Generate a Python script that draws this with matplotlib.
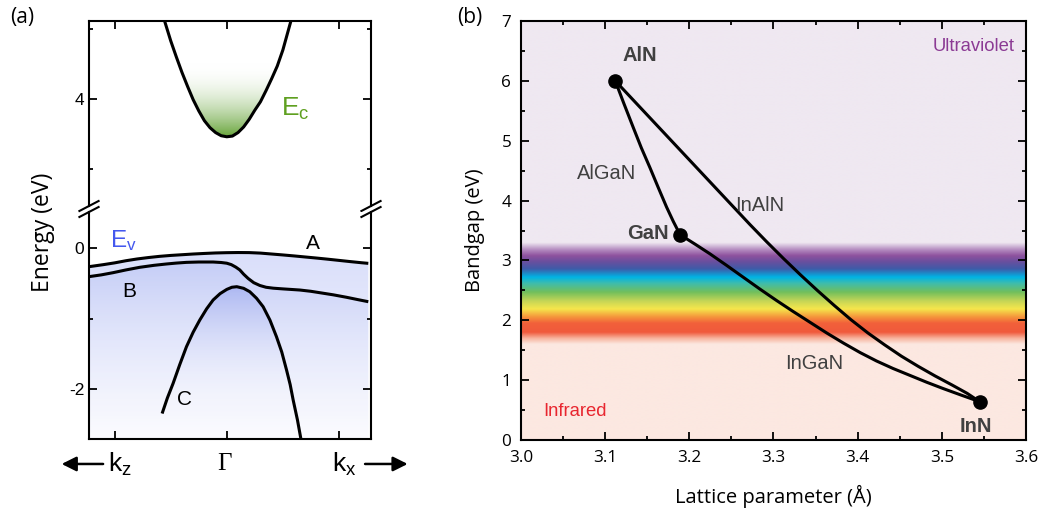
import numpy as np
import matplotlib
matplotlib.use("Agg")
import matplotlib.pyplot as plt
from matplotlib.colors import LinearSegmentedColormap
from matplotlib.patches import Polygon
from matplotlib.ticker import MultipleLocator, FormatStrFormatter

plt.rcParams['font.family'] = ['Liberation Sans', 'DejaVu Sans']
plt.rcParams['mathtext.fontset'] = 'custom'
plt.rcParams['mathtext.rm'] = 'Liberation Sans'
plt.rcParams['mathtext.it'] = 'Liberation Sans'
plt.rcParams['axes.unicode_minus'] = False

# ---- (a) band structure near Gamma ----
k_cb = [-0.554, -0.50, -0.45, -0.40, -0.35, -0.30, -0.25, -0.20, -0.15, -0.10, -0.05, 0.0,
        0.05, 0.10, 0.15, 0.20, 0.25, 0.30, 0.35, 0.40, 0.45, 0.50, 0.571]
e_cb = [5.11, 4.83, 4.60, 4.38, 4.18, 3.99, 3.83, 3.69, 3.59, 3.52, 3.475, 3.46,
        3.47, 3.52, 3.60, 3.71, 3.84, 3.96, 4.12, 4.29, 4.47, 4.70, 5.11]

k_a = [-1.229, -1.1, -1.0, -0.9, -0.8, -0.7, -0.6, -0.5, -0.4, -0.3, -0.2, -0.1, 0.0, 0.1, 0.2,
       0.3, 0.4, 0.5, 0.6, 0.7, 0.8, 0.9, 1.0, 1.1, 1.2, 1.262]
e_a = [-0.264, -0.235, -0.21, -0.18, -0.155, -0.135, -0.118, -0.105, -0.095, -0.085, -0.077,
       -0.07, -0.066, -0.064, -0.065, -0.072, -0.085, -0.098, -0.112, -0.127, -0.142, -0.158,
       -0.175, -0.192, -0.208, -0.217]

k_b = [-1.229, -1.12, -1.015, -0.9, -0.777, -0.65, -0.539, -0.45, -0.36, -0.25, -0.122, -0.05,
       0.0, 0.04, 0.08, 0.116, 0.15, 0.19, 0.24, 0.295, 0.35, 0.414, 0.5, 0.652, 0.75, 0.83,
       0.95, 1.069, 1.17, 1.262]
e_b = [-0.405, -0.38, -0.349, -0.31, -0.273, -0.245, -0.226, -0.213, -0.203, -0.198, -0.198,
       -0.205, -0.215, -0.235, -0.27, -0.31, -0.37, -0.43, -0.49, -0.53, -0.555, -0.568, -0.578,
       -0.594, -0.612, -0.632, -0.662, -0.697, -0.73, -0.759]

k_c = [-0.577, -0.53, -0.479, -0.42, -0.36, -0.30, -0.241, -0.18, -0.122, -0.06, 0.0, 0.045,
       0.089, 0.15, 0.205, 0.265, 0.324, 0.385, 0.443, 0.49, 0.533, 0.565, 0.592, 0.63, 0.661]
e_c = [-2.34, -2.12, -1.914, -1.65, -1.396, -1.19, -1.018, -0.86, -0.735, -0.645, -0.585,
       -0.555, -0.547, -0.57, -0.618, -0.71, -0.83, -1.02, -1.254, -1.47, -1.726, -1.93, -2.15,
       -2.43, -2.70]

k_ticks = [-1, 0, 1]
k_names = [r'k$_\mathrm{z}$', u'\u0393', r'k$_\mathrm{x}$']

# ---- (b) bandgap vs lattice parameter ----
a_bin = [3.112, 3.189, 3.545]
eg_bin = [6.0, 3.43, 0.64]

a_algan = [3.112, 3.122, 3.1334, 3.143, 3.1532, 3.163, 3.173, 3.181, 3.189]
eg_algan = [6.0, 5.63, 5.22, 4.88, 4.55, 4.22, 3.89, 3.65, 3.43]

a_inaln = [3.112, 3.132, 3.152, 3.172, 3.192, 3.212, 3.232, 3.252, 3.272, 3.292, 3.312, 3.332,
           3.352, 3.372, 3.392, 3.412, 3.432, 3.452, 3.472, 3.492, 3.512, 3.530, 3.545]
eg_inaln = [6.00, 5.70, 5.40, 5.10, 4.80, 4.50, 4.20, 3.90, 3.60, 3.31, 3.03, 2.76,
            2.50, 2.25, 2.01, 1.79, 1.59, 1.40, 1.23, 1.07, 0.92, 0.78, 0.64]

a_ingan = [3.189, 3.207, 3.2245, 3.244, 3.264, 3.284, 3.3037, 3.323, 3.343, 3.363, 3.383, 3.403,
           3.4224, 3.442, 3.462, 3.482, 3.5015, 3.523, 3.545]
eg_ingan = [3.43, 3.27, 3.11, 2.92, 2.72, 2.52, 2.33, 2.15, 1.97, 1.79, 1.62, 1.46,
            1.32, 1.195, 1.08, 0.965, 0.86, 0.75, 0.64]

# visible-spectrum band (energy in eV, colour)
spec_e = [0.0, 1.60, 1.70, 1.80, 1.95, 2.06, 2.19, 2.32, 2.47, 2.62, 2.72, 2.86, 2.98, 3.08, 3.18, 3.30, 7.0]
spec_c = ['#fce8e1', '#fce8e1', '#f7b29c', '#f05a3c', '#f2603a', '#f5983c', '#f6e64c', '#c6d656',
          '#72bf5c', '#3dbcae', '#00b4e4', '#3f5ba8', '#6a4f9e', '#8e529e', '#b48cc0', '#efe8f1', '#efe8f1']

fig = plt.figure(figsize=(10.43, 5.2), dpi=100)

ax_up = fig.add_axes([89 / 1043, 1 - 206 / 520, 282 / 1043, 185 / 520])
ax_lo = fig.add_axes([89 / 1043, 1 - 439 / 520, 282 / 1043, 227 / 520])
xlim_a = (-1.229, 1.286)
for ax in (ax_up, ax_lo):
    ax.set_xlim(*xlim_a)
    ax.set_xticks(k_ticks)
    ax.tick_params(direction='in', length=6, width=1.3, labelsize=12.5, which='major')
    ax.tick_params(direction='in', length=3, width=1.3, which='minor')
    ax.yaxis.set_major_locator(MultipleLocator(2))
    ax.yaxis.set_minor_locator(MultipleLocator(1))
    for s in ax.spines.values():
        s.set_linewidth(1.5)
ax_up.set_ylim(2.471, 5.114)
ax_lo.set_ylim(-2.70, 0.509)
ax_up.spines['bottom'].set_visible(False)
ax_lo.spines['top'].set_visible(False)
ax_up.tick_params(which='both', top=True, bottom=False, left=True, right=True, labelbottom=False)
ax_lo.tick_params(which='both', top=False, bottom=True, left=True, right=True, labelbottom=False)


def gradient_fill(ax, xs, top, bottom, c_top, c_bot, clip_xy):
    t = np.linspace(0, 1, 256)[:, None]
    c0 = np.array(matplotlib.colors.to_rgba(c_top))
    c1 = np.array(matplotlib.colors.to_rgba(c_bot))
    img = (c0 * (1 - t) + c1 * t)[:, None, :]
    im = ax.imshow(img, extent=[xs[0], xs[1], bottom, top], aspect='auto',
                   origin='upper', zorder=1, interpolation='bilinear')
    poly = Polygon(clip_xy, closed=True, facecolor='none', edgecolor='none')
    ax.add_patch(poly)
    im.set_clip_path(poly)


# conduction band with green shading up to ~4.5 eV
cb_top = 4.51
cb_poly = np.array(list(zip(k_cb, e_cb)) + [(k_cb[-1], cb_top + 2), (k_cb[0], cb_top + 2)])
gradient_fill(ax_up, (-0.7, 0.7), cb_top, 3.4, (1, 1, 1, 0.0), '#559a22', cb_poly)
ax_up.plot(k_cb, e_cb, color='k', lw=2.2, zorder=3)

# valence bands with blue shading
below_a = np.array(list(zip(k_a, e_a)) + [(k_a[-1], -3), (k_a[0], -3)])
below_b = np.array(list(zip(k_b, e_b)) + [(k_b[-1], -3), (k_b[0], -3)])
inside_c = np.array(list(zip(k_c, e_c)) + [(k_c[-1], -3), (k_c[0], -3)])
gradient_fill(ax_lo, xlim_a, 0.0, -2.7, '#d9defa', '#fbfbff', below_a)
gradient_fill(ax_lo, xlim_a, -0.2, -2.7, (0.72, 0.76, 0.96, 0.6), (1, 1, 1, 0), below_b)
gradient_fill(ax_lo, xlim_a, -0.5, -2.2, (0.62, 0.67, 0.94, 0.75), (1, 1, 1, 0), inside_c)
for kx, ey in ((k_a, e_a), (k_b, e_b), (k_c, e_c)):
    ax_lo.plot(kx, ey, color='k', lw=2.2, zorder=3, solid_capstyle='butt')

ax_up.text(0.61, 3.86, r'E$_\mathrm{c}$', color='#5fa020', fontsize=19, ha='center', va='center')
ax_lo.text(-0.92, 0.11, r'E$_\mathrm{v}$', color='#4458ee', fontsize=17.5, ha='center', va='center')
ax_lo.text(0.77, 0.06, 'A', fontsize=15, ha='center', va='center')
ax_lo.text(-0.87, -0.62, 'B', fontsize=15, ha='center', va='center')
ax_lo.text(-0.375, -2.14, 'C', fontsize=15, ha='center', va='center')

# axis-break marks
for ax, yy, dy in ((ax_up, 0.0, 0.027), (ax_lo, 1.0, 0.022)):
    for xx in (0.0, 1.0):
        ax.plot([xx - 0.034, xx + 0.034], [yy - dy, yy + dy], transform=ax.transAxes,
                color='k', lw=1.5, clip_on=False, zorder=5)

# k-point labels and direction arrows
for kx, name in zip(k_ticks, k_names):
    fam = ['Liberation Serif'] if name == u'\u0393' else ['Liberation Sans']
    ax_lo.text(kx + (0.05 if kx else -0.02), -0.11, name, transform=ax_lo.get_xaxis_transform(),
               fontsize=19 if kx else 18, ha='center', va='center', family=fam)
arrow = dict(arrowstyle='-|>', color='k', lw=1.8, mutation_scale=22, shrinkA=0, shrinkB=0)
ax_lo.annotate('', xy=(-0.097, -0.11), xytext=(0.05, -0.11), xycoords='axes fraction',
               textcoords='axes fraction', arrowprops=arrow)
ax_lo.annotate('', xy=(1.13, -0.11), xytext=(0.979, -0.11), xycoords='axes fraction',
               textcoords='axes fraction', arrowprops=arrow)

fig.text(43 / 1043, 1 - 232 / 520, 'Energy (eV)', rotation=90, ha='center', va='center',
         fontsize=16.5, family=['Open Sans'])
fig.text(22 / 1043, 1 - 17 / 520, '(a)', ha='center', va='center', fontsize=15, family=['Open Sans'])
fig.text(470 / 1043, 1 - 17 / 520, '(b)', ha='center', va='center', fontsize=15, family=['Open Sans'])

# ---- (b) ----
axb = fig.add_axes([521 / 1043, 1 - 440 / 520, 505 / 1043, 419 / 520])
spec_cmap = LinearSegmentedColormap.from_list(
    'spectrum', [(e / spec_e[-1], c) for e, c in zip(spec_e, spec_c)], N=1024)
grad = np.linspace(0, 7, 1024)[:, None]
axb.imshow(grad, extent=[3.0, 3.6, 0, 7], origin='lower', aspect='auto', cmap=spec_cmap,
           vmin=0, vmax=7, interpolation='bilinear', zorder=0)
for xs, ys in ((a_algan, eg_algan), (a_inaln, eg_inaln), (a_ingan, eg_ingan)):
    axb.plot(xs, ys, color='k', lw=2.2, zorder=3, solid_joinstyle='round')
axb.plot(a_bin, eg_bin, 'o', color='k', ms=9.5, zorder=4)

axb.set_xlim(3.0, 3.6)
axb.set_ylim(0, 7)
axb.xaxis.set_major_locator(MultipleLocator(0.1))
axb.xaxis.set_minor_locator(MultipleLocator(0.05))
axb.yaxis.set_major_locator(MultipleLocator(1))
axb.yaxis.set_minor_locator(MultipleLocator(0.5))
axb.xaxis.set_major_formatter(FormatStrFormatter('%.1f'))
axb.tick_params(which='both', direction='in', top=True, right=True, width=1.3)
axb.tick_params(which='major', length=6, labelsize=12.3, pad=7)
axb.tick_params(which='minor', length=3)
for lab in axb.get_xticklabels() + axb.get_yticklabels():
    lab.set_family(['Open Sans'])
for s in axb.spines.values():
    s.set_linewidth(1.5)
axb.set_xlabel(u'Lattice parameter (\u00c5)', fontsize=14.5, family=['Open Sans'], labelpad=14)
axb.set_ylabel('Bandgap (eV)', fontsize=14.5, family=['Open Sans'], labelpad=12)

grey = '#404040'
axb.text(3.141, 6.42, 'AlN', fontsize=14.5, weight='bold', color=grey, ha='center', va='center')
axb.text(3.176, 3.45, 'GaN', fontsize=14.5, weight='bold', color=grey, ha='right', va='center')
axb.text(3.541, 0.22, 'InN', fontsize=14.5, weight='bold', color=grey, ha='center', va='center')
axb.text(3.102, 4.45, 'AlGaN', fontsize=14.5, color=grey, ha='center', va='center')
axb.text(3.284, 3.92, 'InAlN', fontsize=14.5, color=grey, ha='center', va='center')
axb.text(3.348, 1.28, 'InGaN', fontsize=14.5, color=grey, ha='center', va='center')
axb.text(3.587, 6.57, 'Ultraviolet', fontsize=13.3, color='#8b3a94', ha='right', va='center')
axb.text(3.064, 0.48, 'Infrared', fontsize=13.3, color='#e8262f', ha='center', va='center')

fig.savefig('out.png', dpi=100)
